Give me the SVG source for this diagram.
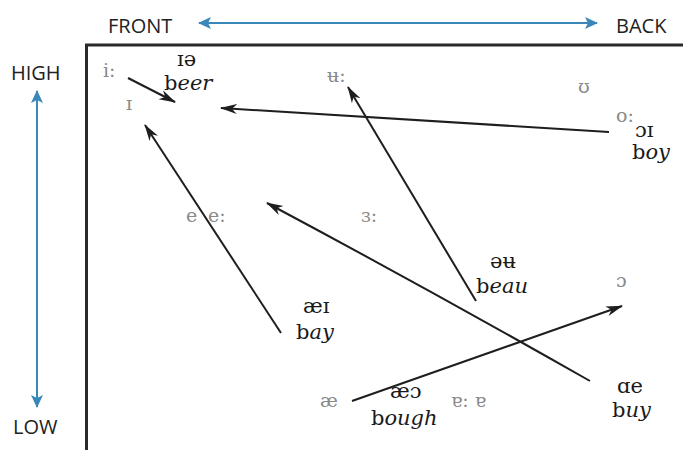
<svg xmlns="http://www.w3.org/2000/svg" width="683" height="450" viewBox="0 0 683 450">
<style>
.axis{font-family:"Open Sans","DejaVu Sans",sans-serif;font-size:20px;fill:#222}
.v{font-family:"DejaVu Serif","Liberation Serif",serif;font-size:19px;fill:#8a8a8a}
.d{font-family:"DejaVu Serif","Liberation Serif",serif;font-size:21px;fill:#1a1a1a}
.i{font-style:italic}
.blue{stroke:#3a88b9;stroke-width:2;fill:none}
.arr{stroke:#1e1e1e;stroke-width:2;fill:none;marker-end:url(#ah)}
</style>
<defs>
<marker id="ah" markerUnits="userSpaceOnUse" markerWidth="18" markerHeight="12" refX="16" refY="5" orient="auto" viewBox="0 0 18 10">
<path d="M0,0 L17,5 L0,10 L5,5 z" fill="#1e1e1e"/>
</marker>
<marker id="bh" markerUnits="userSpaceOnUse" markerWidth="14" markerHeight="12" refX="12" refY="6" orient="auto-start-reverse" viewBox="0 0 14 12">
<path d="M0,0 L13,6 L0,12 L3,6 z" fill="#3a88b9"/>
</marker>
</defs>
<rect width="683" height="450" fill="#fff"/>
<g id="axes">
<text class="axis" x="108" y="33">FRONT</text>
<text class="axis" x="616" y="33">BACK</text>
<text class="axis" x="11" y="80">HIGH</text>
<text class="axis" x="13" y="434">LOW</text>
<line class="blue" x1="199" y1="23" x2="597" y2="23" marker-start="url(#bh)" marker-end="url(#bh)"/>
<line class="blue" x1="37" y1="91" x2="37" y2="407" marker-start="url(#bh)" marker-end="url(#bh)"/>
<path d="M86.5,460 V45 H690" fill="none" stroke="#2a2a2a" stroke-width="3"/>
</g>
<g id="vowels">
<text class="v" x="103" y="77">i:</text>
<text class="v" x="126" y="110">ɪ</text>
<text class="v" x="327" y="82">ʉ:</text>
<text class="v" x="578" y="93">ʊ</text>
<text class="v" x="616" y="122">o:</text>
<text class="v" x="186" y="222">e</text>
<text class="v" x="208" y="222">e:</text>
<text class="v" x="361" y="222">ɜ:</text>
<text class="v" x="616" y="287">ɔ</text>
<text class="v" x="320" y="407">æ</text>
<text class="v" x="451" y="407">ɐ: ɐ</text>
</g>
<g id="beer"><text class="d" x="177" y="66">ɪə</text><text class="d" x="164" y="90">b<tspan class="i">eer</tspan></text></g>
<g id="boy"><text class="d" x="635" y="137">ɔɪ</text><text class="d" x="632" y="159">b<tspan class="i">oy</tspan></text></g>
<g id="bay"><text class="d" x="303" y="313">æɪ</text><text class="d" x="296" y="339">b<tspan class="i">ay</tspan></text></g>
<g id="beau"><text class="d" x="490" y="268">əʉ</text><text class="d" x="476" y="293">b<tspan class="i">eau</tspan></text></g>
<g id="buy"><text class="d" x="617" y="393">ɑe</text><text class="d" x="612" y="417">b<tspan class="i">uy</tspan></text></g>
<g id="bough"><text class="d" x="390" y="398">æɔ</text><text class="d" x="371" y="425">b<tspan class="i">ough</tspan></text></g>
<g id="connectors">
<line class="arr" x1="128" y1="78" x2="175" y2="102"/>
<line class="arr" x1="609" y1="132" x2="221" y2="108"/>
<line class="arr" x1="281" y1="333" x2="145" y2="125"/>
<line class="arr" x1="476" y1="301" x2="348" y2="87"/>
<path class="arr" d="M590,381 Q430,290 267,203"/>
<line class="arr" x1="352" y1="401" x2="622" y2="306"/>
</g>
</svg>
